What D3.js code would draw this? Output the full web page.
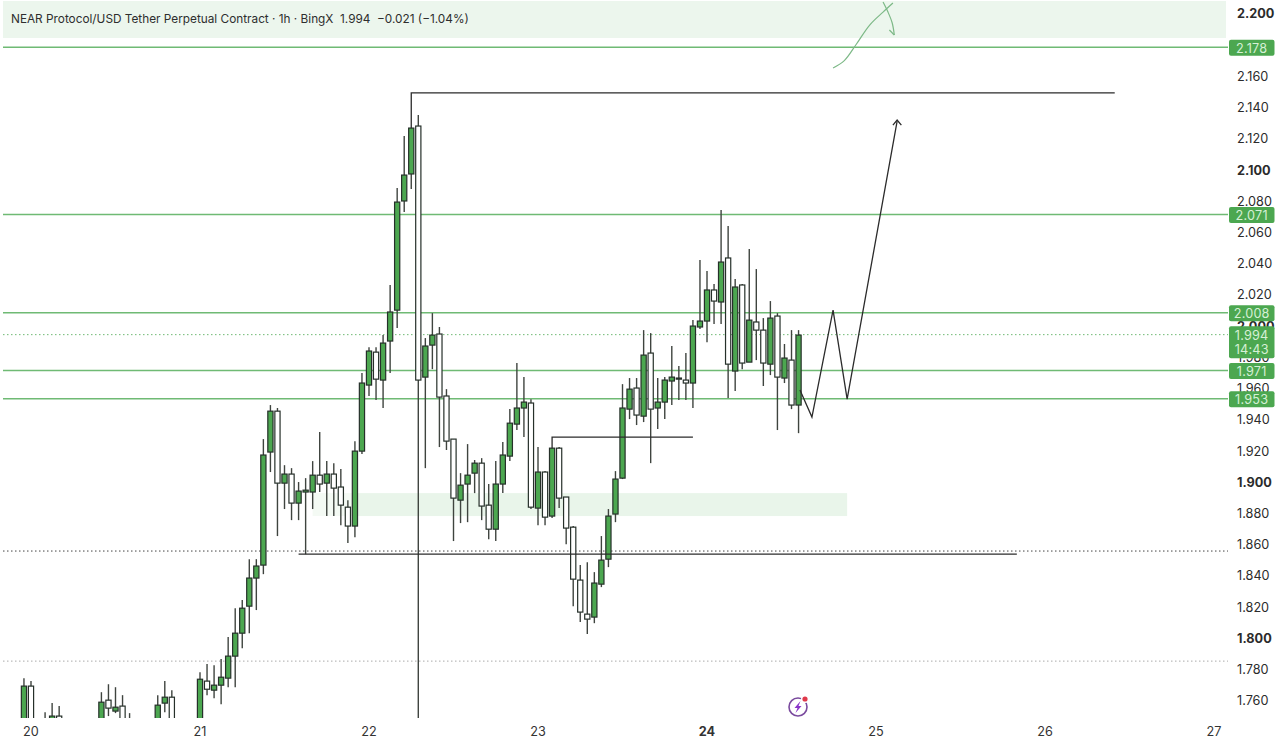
<!DOCTYPE html>
<html>
<head>
<meta charset="utf-8">
<script src="https://cdn.jsdelivr.net/npm/d3@7/dist/d3.min.js"></script>
<style>
  html, body { margin: 0; padding: 0; background: #fff; }
  svg { display: block; }
  text { font-family: Inter, "Liberation Sans", sans-serif; }
</style>
</head>
<body>
<script>
// hours counted from day 20 00:00
const hours = [-1,0,2,3,4,10,11,12,13,14,18,19,20,
  24,25,26,27,28,29,30,31,32,33,34,35,36,37,38,39,40,41,42,43,44,45,46,47,
  48,49,50,51,52,53,54,55,56,57,58,59,60,61,62,63,64,65,66,67,68,69,70,71,
  72,73,74,75,76,77,78,79,80,81,82,83,84,85,86,87,88,89,90,91,92,93,94,95,
  96,97,98,99,100,101,102,103,104,105,106,107,108,109];

const opens = [1.74,1.7689,1.742,1.74,1.7497,1.74,1.7599,1.7529,1.7561,1.742,1.74,1.7580,1.7618,
  1.74,1.7721,1.7663,1.7695,1.7740,1.7881,1.8028,1.8201,1.8381,1.8464,1.9188,1.9450,1.8989,1.9047,1.8861,1.8932,1.8932,1.9040,1.8989,1.9047,1.8964,1.8835,1.8714,1.9194,
  1.9617,1.9828,1.9649,1.9899,2.0097,2.0796,2.0969,2.1276,1.9668,1.9873,1.9944,1.9547,1.9271,1.8880,1.8983,1.9053,1.9117,1.8848,1.8694,1.8983,1.9162,1.9367,1.9470,1.9502,
  1.8829,1.9060,1.8778,1.9213,1.8900,1.8707,1.8368,1.8150,1.8131,1.8342,1.8502,1.8791,1.9021,1.9463,1.9598,1.9418,1.9822,1.9470,1.9508,1.9643,1.9655,1.9649,1.9630,1.9989,
  2.0027,2.0226,2.0149,2.0431,1.9707,2.0258,1.9764,2.0021,1.9969,1.9751,2.0059,1.9662,1.9777,1.9489];

const highs = [1.7740,1.7721,1.7522,1.7580,1.7561,1.7650,1.7701,1.7682,1.7631,1.7516,1.7631,1.7721,1.7663,
  1.7778,1.7830,1.7823,1.7862,1.8003,1.8188,1.8240,1.8502,1.8502,1.9271,1.9489,1.9470,1.9104,1.9085,1.8996,1.9021,1.9130,1.9316,1.9130,1.9117,1.9079,1.8880,1.9258,1.9694,
  1.9860,1.9860,1.9937,2.0258,2.0879,2.1212,2.1263,2.1347,1.9918,2.0078,1.9989,1.9591,1.9271,1.9053,1.9239,1.9137,1.9149,1.8983,1.9130,1.9252,1.9463,1.9758,1.9668,1.9527,
  1.9220,1.9066,1.9213,1.9220,1.8900,1.8714,1.8464,1.8483,1.8419,1.8650,1.8823,1.9066,1.9623,1.9662,1.9662,1.9969,1.9950,1.9662,1.9668,1.9867,1.9739,1.9822,2.0033,2.0418,
  2.0347,2.0264,2.0738,2.0636,2.0296,2.0264,2.0488,2.0360,2.0046,2.0155,2.0078,1.9880,1.9969,1.9969];

const lows = [1.735,1.735,1.735,1.735,1.735,1.735,1.7497,1.7516,1.735,1.735,1.735,1.7522,1.735,
  1.735,1.7631,1.7612,1.7573,1.7682,1.7682,1.7932,1.8028,1.8176,1.8406,1.9060,1.8650,1.8823,1.8752,1.8752,1.8534,1.8823,1.8932,1.8778,1.8778,1.8720,1.8605,1.8643,1.9175,
  1.9547,1.9521,1.9470,1.9694,1.9982,2.0725,2.0873,1.735,1.9085,1.9719,1.9220,1.9201,1.8618,1.8733,1.8739,1.8925,1.8752,1.8630,1.8618,1.8925,1.9130,1.9329,1.9284,1.8823,
  1.8720,1.8720,1.8765,1.8829,1.8598,1.8201,1.8099,1.8022,1.8092,1.8323,1.8451,1.8739,1.9015,1.9399,1.9361,1.9380,1.9117,1.9335,1.9399,1.9489,1.9521,1.9521,1.9470,1.9976,
  1.9892,2.0008,2.0008,1.9534,1.9579,1.9719,1.9764,1.9777,1.9611,1.9681,1.9329,1.9630,1.9463,1.9309];

const closes = [1.7689,1.74,1.74,1.7497,1.74,1.7586,1.7548,1.7554,1.74,1.74,1.7567,1.7618,1.74,
  1.7733,1.7669,1.7695,1.7746,1.7881,1.8028,1.8188,1.8381,1.8458,1.9169,1.9450,1.8989,1.9047,1.8861,1.8938,1.8944,1.9040,1.8983,1.9047,1.8957,1.8848,1.8714,1.9194,1.9630,
  1.9835,1.9655,1.9886,2.0085,2.0789,2.0962,2.1263,1.9649,1.9867,1.9937,1.9540,1.9258,1.8893,1.8976,1.9040,1.9117,1.8842,1.8694,1.8983,1.9169,1.9373,1.9470,1.9508,1.8835,
  1.9060,1.8771,1.9213,1.8893,1.8701,1.8374,1.8163,1.8118,1.8349,1.8496,1.8778,1.9015,1.9470,1.9591,1.9425,1.9809,1.9463,1.9508,1.9649,1.9668,1.9662,1.9630,1.9995,2.0027,
  2.0226,2.0155,2.0405,1.9751,2.0245,1.9758,2.0033,1.9969,1.9758,2.0046,1.9668,1.9790,1.9489,1.9937];

const dayLabels = ["20","21","22","23","24","25","26","27"];
const dayHours = [0,24,48,72,96,120,144,168];
const priceTicks = [2.2,2.18,2.16,2.14,2.12,2.1,2.08,2.06,2.04,2.02,2.0,1.98,1.96,1.94,1.92,1.9,1.88,1.86,1.84,1.82,1.8,1.78,1.76];

const levels = [2.178,2.071,2.008,1.971,1.953];
const lastPrice = 1.994;
const dottedLevels = [1.8554,1.7849];

// [hour, price] points of the hand drawn lines
const topLine = [[54,2.1263],[54,2.1488],[153.9,2.1488]];
const midLine = [[74,1.9213],[74,1.9284],[94,1.9284]];
const lowLine = [[38,1.8534],[140,1.8534]];
const zigzag = [[109.2,1.9585],[110.9,1.9412],[113.9,2.0097],[115.9,1.9527],[123,2.1308]];
const arrowHead = [[122.4,2.1282],[123,2.1314],[123.6,2.1282]];
const greenCurve = [[113.9,2.1648],[115.5,2.1695],[117.2,2.1800],[119.1,2.1923],[121,2.2006],[122.4,2.2064]];
const greenCurve2 = [[121,2.2070],[121.7,2.2006],[122.3,2.1936],[122.6,2.1859]];
const greenBarb = [[121.9,2.1891],[122.6,2.1859]];

const width = 1280, height = 750;
const plotLeft = 3, plotRight = 1228, plotBottom = 718;
const green = "#4ca750", levelGreen = "#6fba74", zoneGreen = "#ecf6ed";

const x = d3.scaleLinear().domain([-4, 170]).range([2.83, 1228.1]);
const y = d3.scaleLinear().domain([2.2, 1.76]).range([13, 700]);

const svg = d3.select("body").append("svg")
  .attr("width", width)
  .attr("height", height);

svg.append("defs").append("clipPath").attr("id", "plot")
  .append("rect")
  .attr("x", plotLeft).attr("y", 0)
  .attr("width", plotRight - plotLeft).attr("height", plotBottom);

const plot = svg.append("g").attr("clip-path", "url(#plot)");

// green zones
plot.append("rect")
  .attr("x", plotLeft).attr("y", 1)
  .attr("width", 1223).attr("height", 37)
  .attr("fill", zoneGreen);
plot.append("rect")
  .attr("x", x(40)).attr("y", y(1.8925))
  .attr("width", x(46) - x(40)).attr("height", y(1.8778) - y(1.8925))
  .attr("fill", "#f4faf4");
plot.append("rect")
  .attr("x", x(46)).attr("y", y(1.8925))
  .attr("width", x(115.9) - x(46)).attr("height", y(1.8778) - y(1.8925))
  .attr("fill", "#e9f5ea");

// horizontal levels
plot.selectAll(".level")
  .data(levels)
  .enter()
  .append("line")
  .classed("level", true)
  .attr("x1", plotLeft).attr("x2", plotRight)
  .attr("y1", d => y(d)).attr("y2", d => y(d))
  .style("stroke", levelGreen)
  .style("stroke-width", 1.5);

plot.append("line")
  .attr("x1", plotLeft).attr("x2", plotRight)
  .attr("y1", y(lastPrice)).attr("y2", y(lastPrice))
  .style("stroke", levelGreen)
  .style("stroke-width", 1)
  .style("stroke-dasharray", "1.5 2.5");

plot.selectAll(".dotted")
  .data(dottedLevels)
  .enter()
  .append("line")
  .classed("dotted", true)
  .attr("x1", plotLeft).attr("x2", plotRight)
  .attr("y1", d => y(d)).attr("y2", d => y(d))
  .style("stroke", (d, i) => i === 0 ? "#444" : "#aaa")
  .style("stroke-width", 1)
  .style("stroke-dasharray", "1.5 2.5");

// candles
const candles = plot.selectAll(".candle")
  .data(d3.range(hours.length))
  .enter()
  .append("g")
  .classed("candle", true)
  .attr("transform", i => `translate(${x(hours[i])},0)`);

candles.append("line")
  .attr("y1", i => y(highs[i]))
  .attr("y2", i => y(lows[i]))
  .style("stroke", "#3f443f")
  .style("stroke-width", 1.4);

candles.append("rect")
  .attr("x", -2.6)
  .attr("width", 5.2)
  .attr("y", i => y(Math.max(opens[i], closes[i])))
  .attr("height", i => Math.max(1, Math.abs(y(opens[i]) - y(closes[i]))))
  .attr("fill", i => closes[i] >= opens[i] ? green : "#fff")
  .style("stroke", "#26302a")
  .style("stroke-width", 1.2);

// drawings
const line = d3.line().x(d => x(d[0])).y(d => y(d[1]));

[topLine, midLine, lowLine, zigzag, arrowHead].forEach(pts => {
  plot.append("path")
    .attr("d", line(pts))
    .attr("fill", "none")
    .style("stroke", "#2b2b2b")
    .style("stroke-width", 1.3);
});

const curved = d3.line().x(d => x(d[0])).y(d => y(d[1])).curve(d3.curveCatmullRom);
[greenCurve, greenCurve2, greenBarb].forEach(pts => {
  plot.append("path")
    .attr("d", curved(pts))
    .attr("fill", "none")
    .style("stroke", "#7db987")
    .style("stroke-width", 1.2);
});

// header
svg.append("text")
  .attr("x", 11).attr("y", 23)
  .attr("fill", "#2e2e2e")
  .style("font-size", "11.8px")
  .text("NEAR Protocol/USD Tether Perpetual Contract · 1h · BingX\u00a0\u00a01.994\u00a0\u00a0−0.021 (−1.04%)");

// axes
const yAxis = d3.axisRight(y)
  .tickValues(priceTicks)
  .tickFormat(d3.format(".3f"))
  .tickSize(0)
  .tickPadding(0);

const yG = svg.append("g")
  .attr("transform", "translate(1237,0.8)")
  .call(yAxis);
yG.select(".domain").remove();
yG.selectAll("text")
  .attr("fill", "#2b2b2b")
  .style("font-size", "12.7px")
  .style("font-family", "Inter, sans-serif")
  .style("font-weight", d => Math.abs(d * 10 - Math.round(d * 10)) < 1e-6 ? 700 : 400);

const xAxis = d3.axisBottom(x)
  .tickValues(dayHours)
  .tickFormat((d, i) => dayLabels[i])
  .tickSize(0)
  .tickPadding(0);

const xG = svg.append("g")
  .attr("transform", "translate(-0.5,727)")
  .call(xAxis);
xG.select(".domain").remove();
xG.selectAll("text")
  .attr("fill", "#333")
  .style("font-size", "12.7px")
  .style("font-family", "Inter, sans-serif")
  .style("font-weight", d => d === 96 ? 700 : 400);

// price labels
const labels = svg.selectAll(".priceLabel")
  .data(levels)
  .enter()
  .append("g")
  .classed("priceLabel", true)
  .attr("transform", d => `translate(1229,${y(d)})`);

labels.append("rect")
  .attr("y", -7.5).attr("width", 45.5).attr("height", 16).attr("rx", 2)
  .attr("fill", green);

labels.append("text")
  .attr("x", 22.7).attr("dy", "0.42em")
  .attr("text-anchor", "middle")
  .attr("fill", "#d6f0d6")
  .style("font-size", "12.7px")
  .style("letter-spacing", "0.2px")
  .text(d => d3.format(".3f")(d));

const last = svg.append("g").attr("transform", `translate(1229,${y(lastPrice)})`);
last.append("rect")
  .attr("y", -8.5).attr("width", 45.5).attr("height", 32).attr("rx", 2)
  .attr("fill", green);
last.append("text")
  .attr("x", 22.7).attr("dy", "0.42em")
  .attr("text-anchor", "middle")
  .attr("fill", "#d6f0d6")
  .style("font-size", "12.7px")
  .style("letter-spacing", "0.2px")
  .text(d3.format(".3f")(lastPrice));
last.append("text")
  .attr("x", 22.7).attr("y", 14).attr("dy", "0.42em")
  .attr("text-anchor", "middle")
  .attr("fill", "#d6f0d6")
  .style("font-size", "12.7px")
  .style("letter-spacing", "0.2px")
  .text("14:43");

// bolt icon
const icon = svg.append("g").attr("transform", "translate(798,707)");
icon.append("circle")
  .attr("r", 9)
  .attr("fill", "none")
  .style("stroke", "#7a4a9e")
  .style("stroke-width", 1.6);
icon.append("path")
  .attr("d", "M2.5,-6 L-3.5,1 L-0.5,1 L-2.5,6 L3.5,-1 L0.5,-1 Z")
  .attr("fill", "#8a35c9");
icon.append("circle")
  .attr("cx", 7).attr("cy", -8).attr("r", 4)
  .attr("fill", "#fff");
icon.append("circle")
  .attr("cx", 7).attr("cy", -8).attr("r", 2.6)
  .attr("fill", "#e0394a");
</script>
</body>
</html>
